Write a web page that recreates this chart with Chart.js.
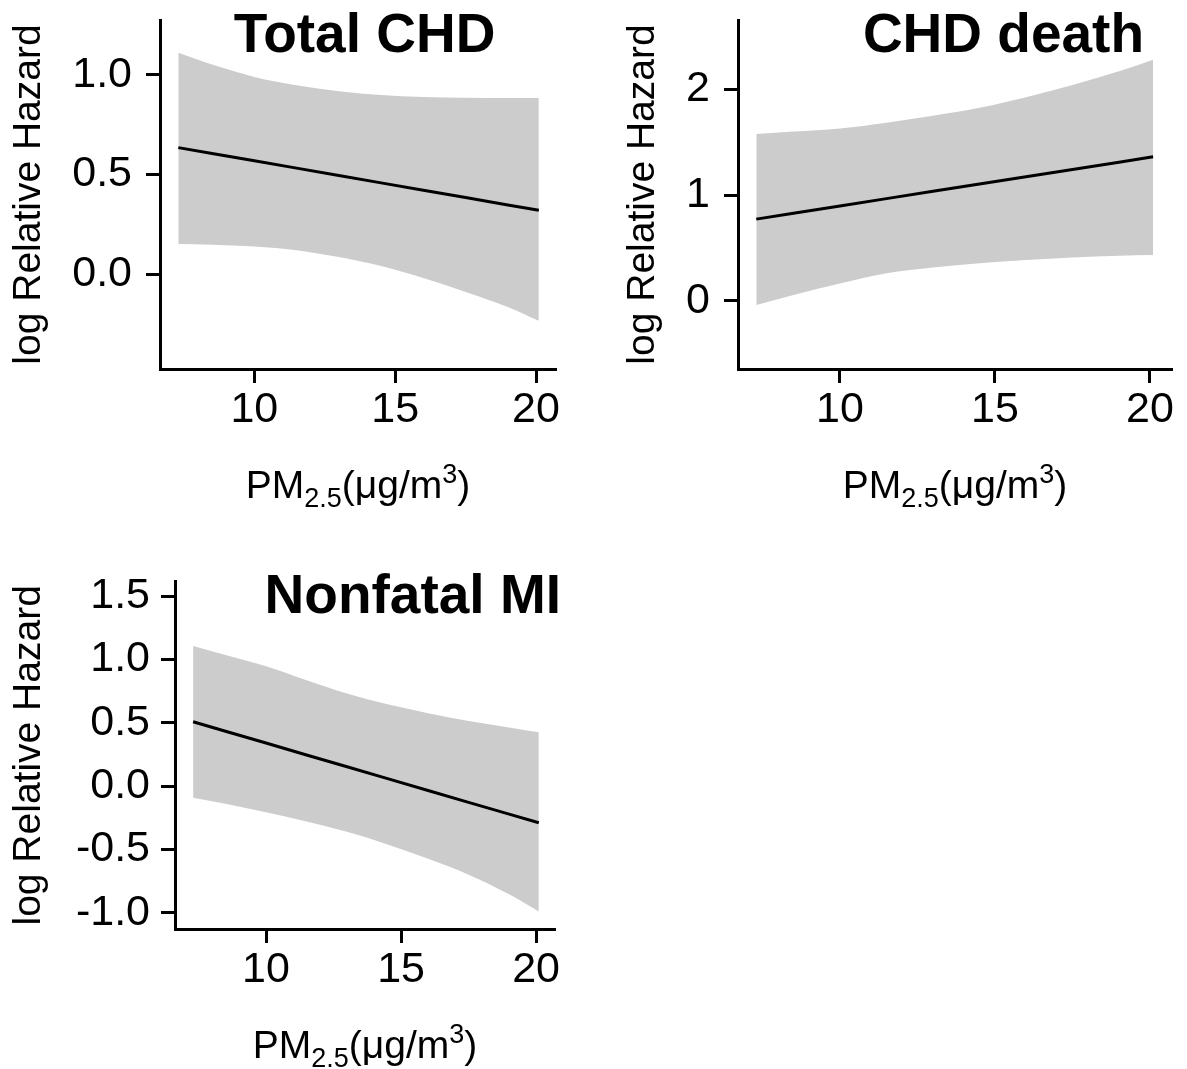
<!DOCTYPE html>
<html>
<head>
<meta charset="utf-8">
<script src="https://cdn.jsdelivr.net/npm/chart.js@4.4.1/dist/chart.umd.min.js"></script>
<style>
    html, body { margin: 0; padding: 0; background: #fff; }
    body { width: 1187px; height: 1069px; position: relative; overflow: hidden; }
    canvas { position: absolute; }
    #c1 { left: 0; top: 0; }
    #c2 { left: 590px; top: 0; }
    #c3 { left: 0; top: 560px; }
</style>
</head>
<body>
<canvas id="c1" width="590" height="540"></canvas>
<canvas id="c2" width="597" height="540"></canvas>
<canvas id="c3" width="590" height="509"></canvas>
<script>
/* PM2.5 exposure, shared by all three panels */
const pm = [7.3, 8.5, 10, 11.5, 13, 14.5, 16, 17.5, 19, 20.1];
const xTicks = [10, 15, 20];

/* Total CHD */
const totalFit   = [0.635, 0.605, 0.569, 0.532, 0.495, 0.458, 0.421, 0.384, 0.347, 0.320];
const totalUpper = [1.112, 1.052, 0.990, 0.948, 0.918, 0.899, 0.889, 0.885, 0.884, 0.884];
const totalLower = [0.151, 0.147, 0.138, 0.120, 0.085, 0.040, -0.020, -0.090, -0.165, -0.235];
const totalTicks = [0.0, 0.5, 1.0];

/* CHD death */
const deathFit   = [0.772, 0.827, 0.896, 0.966, 1.035, 1.104, 1.173, 1.242, 1.311, 1.362];
const deathUpper = [1.577, 1.600, 1.630, 1.685, 1.750, 1.825, 1.925, 2.040, 2.170, 2.280];
const deathLower = [-0.040, 0.055, 0.164, 0.260, 0.315, 0.355, 0.385, 0.410, 0.425, 0.432];
const deathTicks = [0, 1, 2];

/* Nonfatal MI */
const miFit   = [0.507, 0.432, 0.339, 0.245, 0.152, 0.058, -0.035, -0.129, -0.222, -0.290];
const miUpper = [1.105, 1.035, 0.945, 0.835, 0.730, 0.645, 0.575, 0.513, 0.462, 0.424];
const miLower = [-0.092, -0.140, -0.208, -0.280, -0.362, -0.462, -0.575, -0.700, -0.855, -0.990];
const miTicks = [-1.0, -0.5, 0.0, 0.5, 1.0, 1.5];

const FONT = "'Liberation Sans', Arial, Helvetica, sans-serif";
const BAND = "#cccccc";

const xy = (ys) => pm.map((x, i) => ({ x, y: ys[i] }));

// titles and axis titles drawn straight on the canvas (sub/superscripts)
const panelText = {
    id: "panelText",
    afterDraw(chart, args, o) {
        const ctx = chart.ctx;
        const a = chart.chartArea;
        ctx.save();
        ctx.fillStyle = "#000";

        ctx.font = "bold 55px " + FONT;
        ctx.textAlign = o.titleAlign;
        ctx.textBaseline = "alphabetic";
        ctx.fillText(o.title, o.titleX, o.titleY);

        ctx.save();
        ctx.translate(o.yTitleX, (a.top + a.bottom) / 2);
        ctx.rotate(-Math.PI / 2);
        ctx.font = "39px " + FONT;
        ctx.textAlign = "center";
        ctx.textBaseline = "middle";
        ctx.fillText("log Relative Hazard", 0, 0);
        ctx.restore();

        const parts = [
            ["PM", 39, 0],
            ["2.5", 27, 9],
            ["(\u03bcg/m", 39, 0],
            ["3", 27, -15],
            [")", 39, 0]
        ];
        ctx.textAlign = "left";
        let total = 0;
        parts.forEach(p => {
            ctx.font = p[1] + "px " + FONT;
            total += ctx.measureText(p[0]).width;
        });
        let x = (a.left + a.right) / 2 - total / 2;
        const base = a.bottom + 129;
        parts.forEach(p => {
            ctx.font = p[1] + "px " + FONT;
            ctx.fillText(p[0], x, base + p[2]);
            x += ctx.measureText(p[0]).width;
        });
        ctx.restore();
    }
};

function axisStyle() {
    return {
        grid: {
            display: true,
            drawOnChartArea: false,
            drawTicks: true,
            tickLength: 14,
            tickWidth: 3,
            tickColor: "#000"
        },
        border: { display: true, color: "#000", width: 3 }
    };
}

function makePanel(id, p) {
    return new Chart(document.getElementById(id), {
        type: "line",
        data: {
            datasets: [
                {
                    data: xy(p.fit),
                    borderColor: "#000",
                    borderWidth: 3,
                    pointRadius: 0,
                    fill: false
                },
                {
                    data: xy(p.upper),
                    borderColor: "rgba(0,0,0,0)",
                    borderWidth: 0,
                    backgroundColor: BAND,
                    pointRadius: 0,
                    cubicInterpolationMode: "monotone",
                    fill: "+1"
                },
                {
                    data: xy(p.lower),
                    borderColor: "rgba(0,0,0,0)",
                    borderWidth: 0,
                    pointRadius: 0,
                    cubicInterpolationMode: "monotone",
                    fill: false
                }
            ]
        },
        plugins: [panelText],
        options: {
            responsive: false,
            animation: false,
            events: [],
            layout: { padding: { left: 0, top: p.top, right: p.right, bottom: 0 } },
            plugins: {
                legend: { display: false },
                tooltip: { enabled: false },
                filler: { drawTime: "beforeDatasetsDraw" },
                panelText: p.text
            },
            scales: {
                x: {
                    type: "linear",
                    min: p.xMin,
                    max: p.xMax,
                    ...axisStyle(),
                    afterBuildTicks: s => { s.ticks = xTicks.map(v => ({ value: v })); },
                    afterFit: s => {
                        s.height = p.xHeight;
                        s.paddingLeft = 0; s.paddingRight = 0;
                    },
                    ticks: {
                        color: "#000",
                        padding: 1,
                        maxRotation: 0,
                        autoSkip: false,
                        font: { family: FONT, size: 43 }
                    }
                },
                y: {
                    type: "linear",
                    min: p.yMin,
                    max: p.yMax,
                    ...axisStyle(),
                    afterBuildTicks: s => { s.ticks = p.yTicks.map(v => ({ value: v })); },
                    afterFit: s => {
                        s.width = p.yWidth;
                        s.paddingTop = 0; s.paddingBottom = 0;
                    },
                    ticks: {
                        color: "#000",
                        padding: p.yPad,
                        autoSkip: false,
                        font: { family: FONT, size: 43 },
                        callback: v => p.decimals ? v.toFixed(1) : String(v)
                    }
                }
            }
        }
    });
}

makePanel("c1", {
    fit: totalFit, upper: totalUpper, lower: totalLower, yTicks: totalTicks,
    xMin: 6.65, xMax: 20.71, yMin: -0.477, yMax: 1.276,
    top: 20, right: 34, yWidth: 160, xHeight: 171, yPad: 14, decimals: true,
    text: { title: "Total CHD", titleAlign: "center", titleX: 364.5, titleY: 52, yTitleX: 29 }
});

makePanel("c2", {
    fit: deathFit, upper: deathUpper, lower: deathLower, yTicks: deathTicks,
    xMin: 6.71, xMax: 20.71, yMin: -0.646, yMax: 2.656,
    top: 20, right: 15, yWidth: 148, xHeight: 171, yPad: 14, decimals: false,
    text: { title: "CHD death", titleAlign: "right", titleX: 554, titleY: 52, yTitleX: 53 }
});

makePanel("c3", {
    fit: miFit, upper: miUpper, lower: miLower, yTicks: miTicks,
    xMin: 6.63, xMax: 20.7, yMin: -1.129, yMax: 1.613,
    top: 21.7, right: 35, yWidth: 175, xHeight: 140, yPad: 11, decimals: true,
    text: { title: "Nonfatal MI", titleAlign: "right", titleX: 561, titleY: 53, yTitleX: 29 }
});
</script>
</body>
</html>
